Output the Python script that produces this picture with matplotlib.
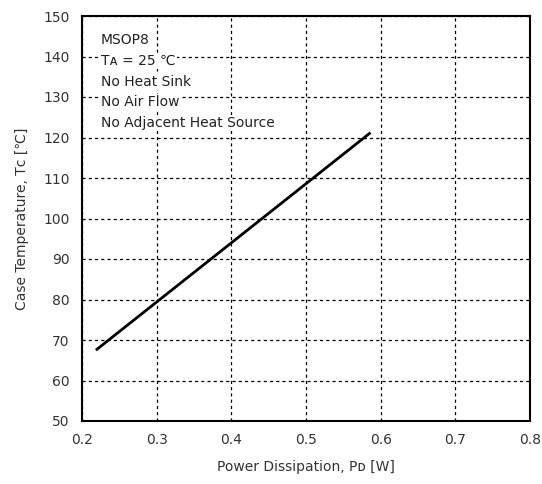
import matplotlib.pyplot as plt
import numpy as np

power = [0.22, 0.585]
temp = [67.7, 121.0]

xticks = [0.2, 0.3, 0.4, 0.5, 0.6, 0.7, 0.8]
yticks = np.arange(50, 151, 10)

notes = ["MSOP8", "T\u1d00 = 25 \u2103", "No Heat Sink", "No Air Flow", "No Adjacent Heat Source"]

plt.rcParams['font.family'] = ['DejaVu Sans']
fig = plt.figure(figsize=(5.42, 4.84), dpi=100)
ax = fig.add_axes([82 / 542, 1 - 421 / 484, 448 / 542, 405 / 484])

ax.plot(power, temp, color="black", lw=2)

ax.set_xlim(0.2, 0.8)
ax.set_ylim(50, 150)
ax.set_xticks(xticks)
ax.set_yticks(yticks)
ax.set_xticklabels(["%.1f" % v for v in xticks])
ax.grid(True, color="black", ls=(0, (2.5, 2.5)), lw=0.9)
ax.tick_params(length=0, labelsize=10, pad=9, colors="#333333")
for s in ax.spines.values():
    s.set_linewidth(1.5)

ax.set_xlabel("Power Dissipation, P\u1d05 [W]", fontsize=10, color="#333333", labelpad=9)
ax.set_ylabel("Case Temperature, T\u1d04 [\u2103]", fontsize=10, color="#333333", labelpad=10)

for i, t in enumerate(notes):
    ax.text(0.042, 0.94 - i * 0.051, t, transform=ax.transAxes, fontsize=10,
            va="center", ha="left", color="#222222",
            bbox=dict(facecolor="white", edgecolor="none", pad=1))

fig.savefig("out.png", dpi=100)
